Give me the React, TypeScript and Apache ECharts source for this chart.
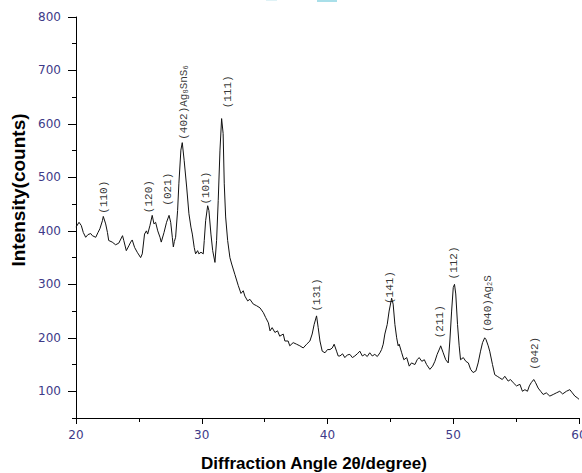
import React, { useEffect, useRef } from "react";
import * as echarts from "echarts";

const angles = [
  20.0, 20.24, 20.42, 20.58, 20.77, 20.95, 21.17, 21.3, 21.57, 21.75, 21.9, 22.1, 22.17, 22.36, 22.5, 22.6,
  22.88, 23.15, 23.4, 23.7, 23.8, 24.0, 24.2, 24.35, 24.47, 24.66, 24.87, 25.14, 25.27, 25.45, 25.6, 25.7,
  25.88, 26.06, 26.2, 26.33, 26.5, 26.68, 26.78, 27.0, 27.2, 27.4, 27.53, 27.66, 27.74, 27.82, 27.92, 28.08,
  28.18, 28.34, 28.45, 28.6, 28.8, 28.98, 29.14, 29.25, 29.4, 29.51, 29.67, 29.77, 29.94, 30.12, 30.2, 30.31,
  30.47, 30.57, 30.73, 30.87, 31.05, 31.18, 31.31, 31.45, 31.58, 31.7, 31.79, 31.9, 32.06, 32.24, 32.38, 32.64,
  32.9, 33.12, 33.3, 33.43, 33.65, 33.83, 34.1, 34.36, 34.63, 34.9, 35.08, 35.3, 35.43, 35.6, 35.82, 36.03,
  36.2, 36.48, 36.61, 36.87, 37.0, 37.27, 37.54, 37.8, 38.07, 38.34, 38.6, 38.78, 38.94, 39.13, 39.26, 39.4,
  39.58, 39.8, 40.0, 40.2, 40.38, 40.53, 40.72, 40.85, 40.99, 41.2, 41.38, 41.58, 41.78, 41.98, 42.17, 42.37,
  42.57, 42.77, 42.97, 43.16, 43.36, 43.56, 43.76, 43.96, 44.17, 44.3, 44.43, 44.56, 44.75, 44.9, 45.1, 45.22,
  45.36, 45.5, 45.62, 45.7, 45.9, 46.07, 46.3, 46.5, 46.68, 46.95, 47.13, 47.29, 47.5, 47.7, 47.88, 48.14,
  48.36, 48.54, 48.72, 48.94, 49.0, 49.2, 49.4, 49.6, 49.73, 49.87, 50.0, 50.1, 50.2, 50.34, 50.47, 50.58,
  50.8, 51.0, 51.2, 51.38, 51.58, 51.8, 51.98, 52.17, 52.33, 52.5, 52.6, 52.78, 52.9, 53.12, 53.3, 53.5,
  53.7, 53.9, 54.1, 54.37, 54.55, 54.77, 55.03, 55.3, 55.5, 55.7, 55.9, 56.05, 56.2, 56.4, 56.55, 56.75,
  56.95, 57.15, 57.4, 57.68, 57.95, 58.2, 58.47, 58.7, 59.0, 59.27, 59.47, 59.67, 59.85, 60.0,
];
const intensities = [
  407, 416, 410, 397, 388, 393, 395, 391, 388, 397, 404, 419, 427, 413, 397, 382,
  379, 374, 377, 391, 382, 363, 372, 379, 383, 369, 360, 350, 357, 394, 400, 394,
  410, 429, 413, 416, 400, 388, 379, 397, 416, 429, 416, 388, 370, 380, 388, 438,
  488, 551, 565, 532, 482, 432, 407, 394, 369, 357, 363, 357, 360, 357, 382, 419,
  447, 438, 394, 363, 341, 382, 457, 551, 610, 582, 488, 426, 382, 350, 338, 318,
  298, 283, 288, 278, 269, 272, 263, 260, 256, 247, 238, 228, 213, 219, 210, 213,
  203, 207, 194, 194, 185, 191, 188, 185, 181, 188, 194, 207, 225, 241, 219, 194,
  175, 172, 178, 178, 181, 188, 175, 166, 166, 170, 163, 168, 169, 163, 166, 170,
  175, 166, 169, 165, 172, 166, 169, 165, 172, 178, 188, 207, 225, 250, 274, 263,
  225, 200, 185, 188, 172, 159, 163, 147, 153, 150, 159, 163, 156, 159, 150, 141,
  147, 156, 169, 181, 185, 172, 159, 153, 194, 250, 294, 300, 282, 225, 185, 159,
  163, 156, 153, 141, 135, 138, 153, 175, 191, 200, 197, 185, 175, 150, 131, 128,
  125, 122, 128, 119, 122, 116, 110, 113, 100, 103, 100, 110, 116, 122, 116, 106,
  100, 94, 97, 91, 94, 97, 100, 95, 100, 103, 97, 91, 88, 85,
];

// peak annotations
const peakLabels = [
  "(110)", "(120)", "(021)", "(402)Ag{s|8}SnS{s|6}", "(101)", "(111)",
  "(131)", "(141)", "(211)", "(112)", "(040)Ag{s|2}S", "(042)",
];
const peakLabelX = [22.21, 25.8, 27.34, 28.55, 30.33, 32.08, 39.13, 44.96, 48.94, 50.09, 52.75, 56.5];
const peakLabelY = [463, 464, 478, 640, 480, 660, 280, 294, 230, 340, 264, 171];

const xTitle = "Diffraction Angle 2θ/degree)";
const yTitle = "Intensity(counts)";
const yMajorTicks = [100, 200, 300, 400, 500, 600, 700, 800];
const yMinorTicks = [50, 150, 250, 350, 450, 550, 650, 750];

export default function App() {
  const ref = useRef<HTMLDivElement>(null);
  useEffect(() => {
    if (!ref.current) return;
    const chart = echarts.init(ref.current, null, { renderer: "svg" });
    const tickColor = "#3d3a88";
    const labelFont = { color: tickColor, fontFamily: "DejaVu Sans", fontSize: 12 };
    chart.setOption({
      animation: false,
      backgroundColor: "#ffffff",
      grid: { left: 76, right: 3, top: 17, bottom: 55, containLabel: false, outerBoundsMode: "none" },
      xAxis: {
        type: "value",
        min: 20,
        max: 60,
        interval: 10,
        axisLine: { show: true, lineStyle: { color: "#000", width: 1 } },
        axisTick: { show: true, length: 6, lineStyle: { color: "#000" } },
        minorTick: { show: true, splitNumber: 2, length: 4, lineStyle: { color: "#000" } },
        splitLine: { show: false },
        axisLabel: { ...labelFont, margin: 11 },
      },
      yAxis: [
        {
          type: "value",
          min: 50,
          max: 800,
          position: "left",
          axisLine: { show: true, lineStyle: { color: "#000", width: 1 } },
          axisTick: { show: true, customValues: yMinorTicks, length: 4, lineStyle: { color: "#000" } },
          axisLabel: { show: false },
          splitLine: { show: false },
        },
        {
          type: "value",
          min: 50,
          max: 800,
          position: "left",
          offset: 0,
          axisLine: { show: false },
          axisTick: { show: true, customValues: yMajorTicks, length: 8, lineStyle: { color: "#000" } },
          axisLabel: { ...labelFont, customValues: yMajorTicks, margin: 15 },
          splitLine: { show: false },
        },
      ],
      graphic: [
        {
          type: "text",
          x: 18,
          y: 190,
          rotation: Math.PI / 2,
          style: {
            text: yTitle,
            font: "bold 19px 'Liberation Sans', Arial, sans-serif",
            fill: "#000",
            align: "center",
            verticalAlign: "middle",
          },
        },
        {
          type: "text",
          x: 314,
          y: 463,
          style: {
            text: xTitle,
            font: "bold 17px 'Liberation Sans', Arial, sans-serif",
            fill: "#000",
            align: "center",
            verticalAlign: "middle",
          },
        },
        { type: "rect", shape: { x: 317, y: 0, width: 20, height: 2 }, style: { fill: "#a9dfe9" } },
        { type: "rect", shape: { x: 266, y: 0, width: 11, height: 1 }, style: { fill: "#dff2f6" } },
      ],
      series: [
        {
          type: "line",
          data: angles.map((a, i) => [a, intensities[i]]),
          yAxisIndex: 0,
          showSymbol: false,
          symbol: "none",
          lineStyle: { color: "#111", width: 1 },
          silent: true,
        },
        {
          type: "scatter",
          yAxisIndex: 0,
          symbolSize: 1,
          itemStyle: { color: "rgba(0,0,0,0)" },
          silent: true,
          data: peakLabels.map((t, i) => ({ name: t, value: [peakLabelX[i], peakLabelY[i]] })),
          label: {
            show: true,
            position: "inside",
            rotate: 90,
            formatter: (p: any) => p.name,
            fontFamily: "Liberation Mono",
            fontSize: 11,
            lineHeight: 12,
            color: "#000",
            rich: {
              s: { fontFamily: "Liberation Mono", fontSize: 7, lineHeight: 7, verticalAlign: "bottom", color: "#000", padding: [6, 0, 0, 0] },
            },
          },
        },
      ],
    });
    return () => chart.dispose();
  }, []);
  return <div ref={ref} style={{ position: "absolute", left: 0, top: 0, width: 582, height: 473 }} />;
}
